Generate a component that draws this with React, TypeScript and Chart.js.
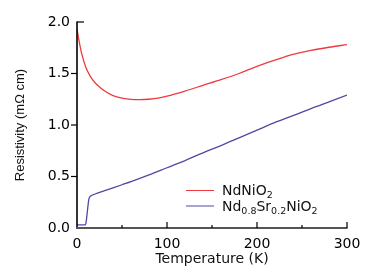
import React, { useEffect, useRef } from "react";
import { Chart, registerables } from "chart.js";

Chart.register(...registerables);

// NdNiO2
const tempA = [0, 2, 5, 10, 15, 20, 25, 30, 40, 50, 60, 70, 80, 90, 100, 120, 140, 160, 180, 200, 220, 240, 260, 280, 300];
const rhoA = [1.93, 1.83, 1.7, 1.555, 1.47, 1.41, 1.37, 1.335, 1.285, 1.26, 1.248, 1.246, 1.25, 1.26, 1.28, 1.33, 1.385, 1.44, 1.5, 1.57, 1.63, 1.685, 1.725, 1.755, 1.78];

// Nd0.8Sr0.2NiO2
const tempB = [0, 5, 9, 10, 11, 12, 13, 14, 16, 20, 30, 40, 50, 60, 80, 100, 120, 140, 160, 180, 200, 220, 240, 260, 280, 300];
const rhoB = [0.03, 0.03, 0.03, 0.05, 0.12, 0.2, 0.27, 0.3, 0.315, 0.33, 0.36, 0.39, 0.42, 0.45, 0.515, 0.585, 0.655, 0.73, 0.8, 0.875, 0.95, 1.025, 1.09, 1.16, 1.225, 1.29];

const xMajorTicks = [100, 200, 300];
const xMinorTicks = [50, 150, 250];
const yOutTicks = [0.5, 1.0, 1.5];
const yInTicks = [2.0];

const RED = "#ee3a3f";
const BLUE = "#4e4aa2";
const HFONT = "'DejaVu Sans', sans-serif";

const axesPlugin = {
  id: "customAxes",
  afterDraw(chart: any) {
    const { ctx, chartArea } = chart;
    const xs = chart.scales.x;
    const ys = chart.scales.y;
    const L = chartArea.left;
    const B = chartArea.bottom;
    ctx.save();
    // y axis
    ctx.strokeStyle = "#000";
    ctx.lineWidth = 1.6;
    ctx.beginPath();
    ctx.moveTo(L, ys.getPixelForValue(2.0) - 0.5);
    ctx.lineTo(L, B);
    ctx.stroke();
    ctx.lineWidth = 1.2;
    yOutTicks.forEach((v) => {
      const y = ys.getPixelForValue(v);
      ctx.beginPath();
      ctx.moveTo(L - 6, y);
      ctx.lineTo(L, y);
      ctx.stroke();
    });
    yInTicks.forEach((v) => {
      const y = ys.getPixelForValue(v);
      ctx.beginPath();
      ctx.moveTo(L, y);
      ctx.lineTo(L + 7, y);
      ctx.stroke();
    });
    // x axis
    ctx.strokeStyle = "#555";
    ctx.lineWidth = 2;
    ctx.beginPath();
    ctx.moveTo(L - 1, B);
    ctx.lineTo(xs.getPixelForValue(300) + 0.5, B);
    ctx.stroke();
    ctx.strokeStyle = "#000";
    ctx.lineWidth = 1.2;
    xMajorTicks.forEach((v) => {
      const x = xs.getPixelForValue(v);
      ctx.beginPath();
      ctx.moveTo(x, B);
      ctx.lineTo(x, B - 6);
      ctx.stroke();
    });
    xMinorTicks.forEach((v) => {
      const x = xs.getPixelForValue(v);
      ctx.beginPath();
      ctx.moveTo(x, B);
      ctx.lineTo(x, B - 3);
      ctx.stroke();
    });
    ctx.restore();
  },
};

type Part = { t: string; sub?: boolean };
const legendItems: { color: string; parts: Part[] }[] = [
  { color: RED, parts: [{ t: "NdNiO" }, { t: "2", sub: true }] },
  {
    color: BLUE,
    parts: [
      { t: "Nd" },
      { t: "0.8", sub: true },
      { t: "Sr" },
      { t: "0.2", sub: true },
      { t: "NiO" },
      { t: "2", sub: true },
    ],
  },
];

const legendPlugin = {
  id: "customLegend",
  afterDraw(chart: any) {
    const { ctx } = chart;
    ctx.save();
    const x0 = 186;
    const x1 = 214;
    const tx = 222;
    const ys0 = [190.5, 206];
    legendItems.forEach((item, i) => {
      const y = ys0[i];
      ctx.strokeStyle = item.color;
      ctx.lineWidth = 1;
      ctx.beginPath();
      ctx.moveTo(x0, y);
      ctx.lineTo(x1, y);
      ctx.stroke();
      let x = tx;
      ctx.fillStyle = "#111";
      ctx.textBaseline = "alphabetic";
      ctx.textAlign = "left";
      item.parts.forEach((p) => {
        if (p.sub) {
          ctx.font = `9.5px ${HFONT}`;
          ctx.fillText(p.t, x, y + 7.5);
        } else {
          ctx.font = `14px ${HFONT}`;
          ctx.fillText(p.t, x, y + 4.8);
        }
        x += ctx.measureText(p.t).width;
      });
    });
    ctx.restore();
  },
};

export default function App() {
  const ref = useRef<HTMLCanvasElement | null>(null);
  useEffect(() => {
    if (!ref.current) return;
    const chart = new Chart(ref.current, {
      type: "scatter",
      data: {
        datasets: [
          {
            label: "NdNiO2",
            data: tempA.map((t, i) => ({ x: t, y: rhoA[i] })),
            showLine: true,
            borderColor: RED,
            borderWidth: 1.3,
            pointRadius: 0,
            cubicInterpolationMode: "monotone",
          },
          {
            label: "Nd0.8Sr0.2NiO2",
            data: tempB.map((t, i) => ({ x: t, y: rhoB[i] })),
            showLine: true,
            borderColor: BLUE,
            borderWidth: 1.3,
            pointRadius: 0,
            cubicInterpolationMode: "monotone",
          },
        ],
      },
      options: {
        animation: false,
        responsive: true,
        maintainAspectRatio: false,
        layout: { padding: { left: 0, right: 35, top: 22, bottom: 0 } },
        plugins: { legend: { display: false }, tooltip: { enabled: false } },
        scales: {
          x: {
            type: "linear",
            min: 0,
            max: 300,
            afterFit: (s: any) => {
              s.height = 45;
            },
            afterBuildTicks: (s: any) => {
              s.ticks = [0, ...xMajorTicks].map((v) => ({ value: v }));
            },
            grid: { display: false, drawTicks: false },
            border: { display: false },
            ticks: {
              padding: 8,
              color: "#000",
              font: { family: HFONT, size: 14 },
              maxRotation: 0,
            },
            title: {
              display: true,
              text: "Temperature (K)",
              color: "#111",
              font: { family: HFONT, size: 14 },
              padding: { top: 0, bottom: 5 },
            },
          },
          y: {
            type: "linear",
            min: 0,
            max: 2.0,
            afterFit: (s: any) => {
              s.width = 77;
            },
            afterBuildTicks: (s: any) => {
              s.ticks = [0, ...yOutTicks, ...yInTicks].map((v) => ({ value: v }));
            },
            grid: { display: false, drawTicks: false },
            border: { display: false },
            ticks: {
              padding: 7,
              color: "#000",
              font: { family: HFONT, size: 14 },
              callback: (v: any) => Number(v).toFixed(1),
            },
            title: {
              display: true,
              text: "Resistivity (mΩ cm)",
              color: "#111",
              font: { family: "'Liberation Sans', Arial, sans-serif", size: 13 },
              padding: { top: 13, bottom: 0 },
            },
          },
        },
      },
      plugins: [axesPlugin, legendPlugin],
    });
    return () => chart.destroy();
  }, []);
  return (
    <div style={{ position: "fixed", left: 0, top: 0, width: 382, height: 273, background: "#fff" }}>
      <canvas ref={ref} />
    </div>
  );
}
